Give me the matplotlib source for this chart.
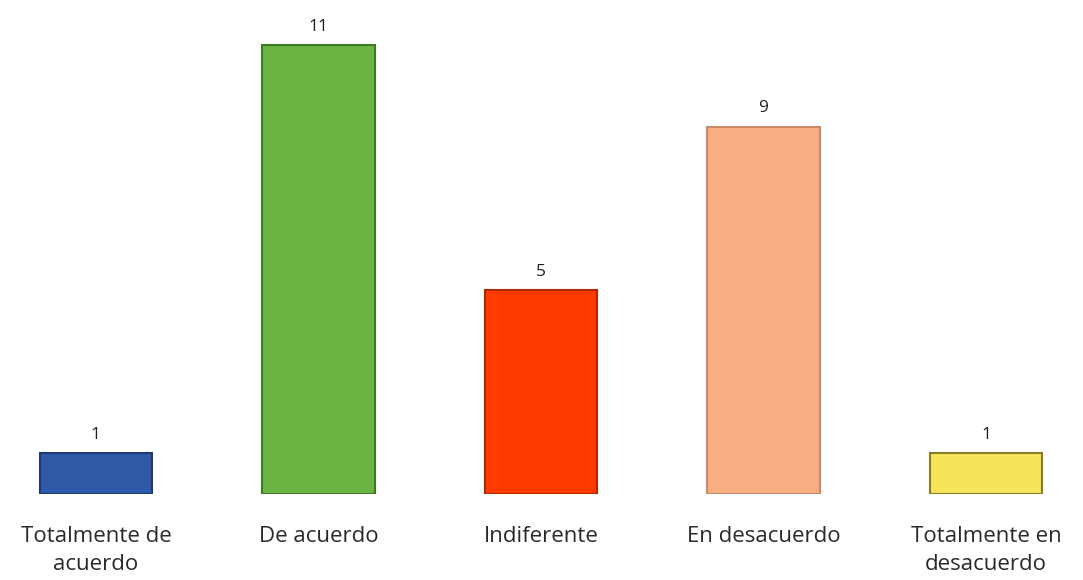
import numpy as np
import matplotlib.pyplot as plt

plt.rcParams['font.family'] = ['Open Sans', 'DejaVu Sans']

categories = ['Totalmente de\nacuerdo', 'De acuerdo', 'Indiferente',
              'En desacuerdo', 'Totalmente en\ndesacuerdo']
counts = [1, 11, 5, 9, 1]
colors = ['#2f5aa8', '#6cb545', '#ff3a00', '#f9ae84', '#f6e45a']
edges = ['#1f3a70', '#3d7a25', '#b02a00', '#c98a66', '#8a7d2a']

fig = plt.figure(figsize=(10.83, 5.8), dpi=100)
ax = fig.add_axes([0, 0.148, 1, 0.852])

x = np.arange(len(categories))
bars = ax.bar(x, counts, width=0.505, color=colors, edgecolor=edges, linewidth=1.5)

for xi, v in zip(x, counts):
    ax.text(xi, v + 0.25, str(v), ha='center', va='bottom', fontsize=12.5, color='#222222')

ax.set_xlim(-0.431, 4.436)
ax.set_ylim(0, 12.1)
ax.set_xticks(x)
ax.set_xticklabels(categories, fontsize=16, color='#2a2a2a', linespacing=1.45)
ax.tick_params(axis='x', length=0, pad=23)
ax.set_yticks([])
for s in ax.spines.values():
    s.set_visible(False)

fig.savefig('out.png', dpi=100)
